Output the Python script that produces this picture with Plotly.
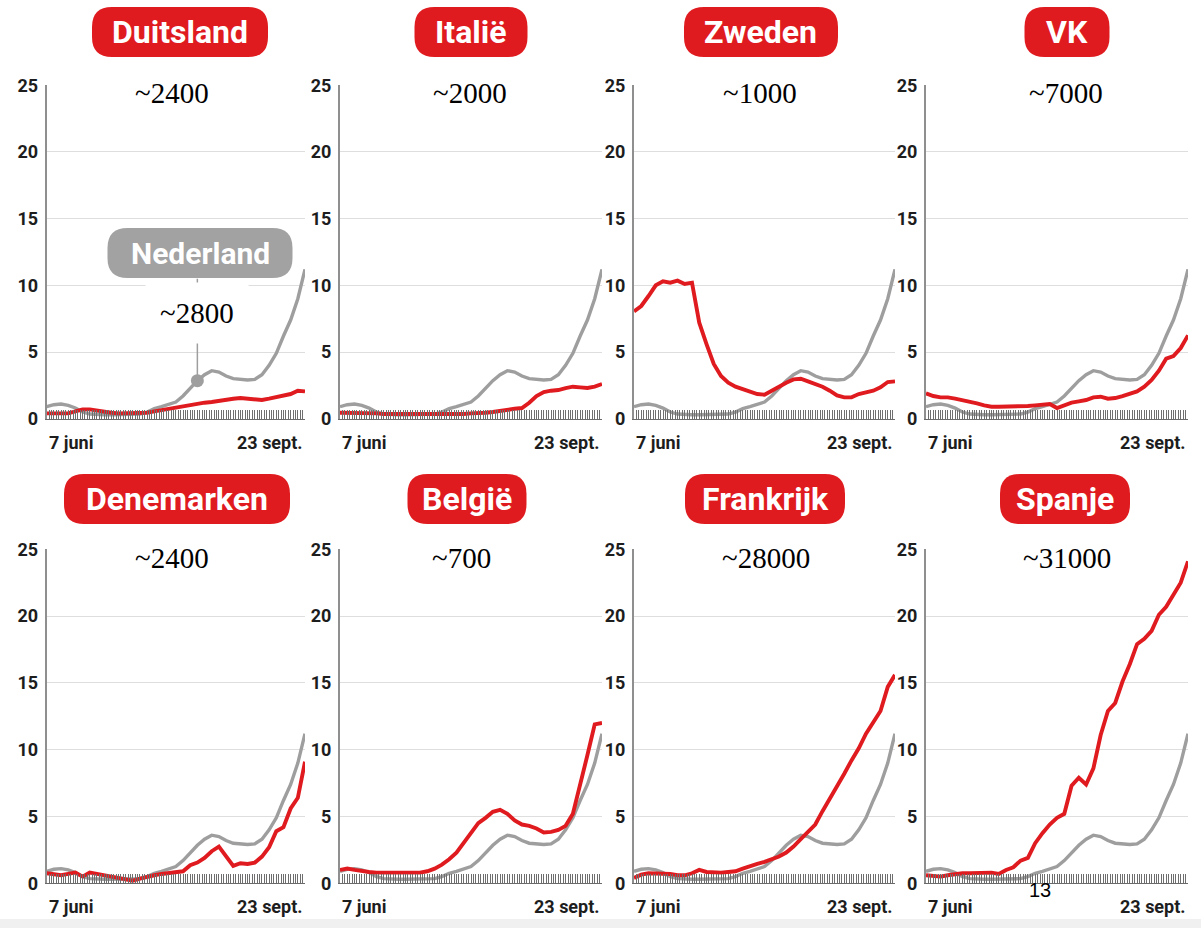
import plotly.graph_objects as go
import pandas as pd

# ---------------- data ----------------
START_DATE = "2020-06-07"
STEP_DAYS = 3
x_tick_labels = ["7 juni", "23 sept."]
y_tick_values = [0, 5, 10, 15, 20, 25]

nederland = [0.9, 1.05, 1.1, 1.0, 0.8, 0.5, 0.35, 0.3, 0.3, 0.3, 0.3, 0.3, 0.3,
             0.35, 0.5, 0.75, 0.9, 1.05, 1.25, 1.7, 2.3, 2.85, 3.3, 3.6, 3.5,
             3.2, 3.0, 2.95, 2.9, 2.95, 3.3, 4.0, 4.9, 6.2, 7.4, 9.0, 11.2]

duitsland = [0.4, 0.4, 0.35, 0.4, 0.55, 0.7, 0.7, 0.6, 0.5, 0.45, 0.4, 0.4, 0.4,
             0.4, 0.45, 0.55, 0.65, 0.75, 0.85, 0.95, 1.05, 1.1, 1.2, 1.25, 1.35,
             1.4, 1.5, 1.55, 1.5, 1.45, 1.4, 1.5, 1.6, 1.7, 1.85, 2.1, 2.05]

italie = [0.45, 0.45, 0.45, 0.45, 0.4, 0.4, 0.35, 0.35, 0.3, 0.3, 0.3, 0.3, 0.3,
          0.3, 0.3, 0.35, 0.35, 0.35, 0.4, 0.4, 0.45, 0.5, 0.6, 0.7, 0.75,
          0.8, 1.2, 1.7, 2.0, 2.1, 2.15, 2.3, 2.4, 2.35, 2.3, 2.4, 2.6]

zweden = [8.05, 8.45, 9.2, 10.0, 10.3, 10.2, 10.35, 10.1, 10.2, 7.2, 5.6, 4.1, 3.2,
          2.7, 2.4, 2.2, 2.0, 1.85, 1.8, 2.1, 2.45, 2.7, 2.95, 3.0, 2.8,
          2.6, 2.4, 2.1, 1.75, 1.6, 1.6, 1.85, 2.0, 2.1, 2.35, 2.75, 2.8]

vk = [1.9, 1.7, 1.6, 1.6, 1.5, 1.4, 1.3, 1.15, 1.0, 0.9, 0.9, 0.9, 0.9,
      0.95, 0.95, 1.0, 1.05, 1.1, 0.8, 1.0, 1.2, 1.3, 1.4, 1.6, 1.65,
      1.5, 1.55, 1.7, 1.85, 2.05, 2.4, 2.9, 3.6, 4.5, 4.7, 5.3, 6.25]

denemarken = [0.75, 0.7, 0.6, 0.7, 0.8, 0.5, 0.8, 0.7, 0.6, 0.45, 0.35, 0.25, 0.2,
              0.35, 0.5, 0.6, 0.7, 0.75, 0.85, 0.9, 1.35, 1.55, 1.9, 2.4, 2.75,
              2.0, 1.3, 1.5, 1.45, 1.55, 2.0, 2.7, 3.9, 4.2, 5.6, 6.4, 9.1]

belgie = [1.0, 1.1, 1.0, 0.9, 0.85, 0.8, 0.8, 0.78, 0.75, 0.75, 0.8, 0.8, 0.9,
          1.1, 1.4, 1.8, 2.3, 3.0, 3.8, 4.5, 4.9, 5.35, 5.5, 5.2, 4.7,
          4.4, 4.3, 4.1, 3.8, 3.85, 4.0, 4.3, 5.2, 7.3, 9.6, 11.9, 12.0]

frankrijk = [0.4, 0.65, 0.75, 0.75, 0.75, 0.7, 0.6, 0.6, 0.75, 1.0, 0.85, 0.8, 0.8,
             0.85, 0.9, 1.1, 1.3, 1.45, 1.6, 1.8, 2.0, 2.3, 2.75, 3.3, 3.9,
             4.4, 5.4, 6.3, 7.3, 8.2, 9.2, 10.1, 11.2, 12.1, 12.9, 14.7, 15.6]

spanje = [0.6, 0.55, 0.5, 0.6, 0.7, 0.75, 0.75, 0.75, 0.75, 0.8, 0.7, 1.0, 1.2,
          1.7, 1.9, 3.0, 3.75, 4.4, 4.9, 5.2, 7.3, 7.9, 7.4, 8.6, 11.1,
          12.9, 13.5, 15.1, 16.4, 17.9, 18.3, 18.9, 20.1, 20.7, 21.6, 22.5, 24.1]

countries = ["Duitsland", "Italië", "Zweden", "VK",
             "Denemarken", "België", "Frankrijk", "Spanje"]
country_series = [duitsland, italie, zweden, vk, denemarken, belgie, frankrijk, spanje]
case_labels = ["~2400", "~2000", "~1000", "~7000", "~2400", "~700", "~28000", "~31000"]
nl_name = "Nederland"
nl_label = "~2800"
nl_marker_index = 21
page_number = "13"

dates = pd.date_range(START_DATE, periods=len(nederland), freq=f"{STEP_DAYS}D")

# ---------------- layout geometry (pixels) ----------------
W, H = 1201, 928
RED = "#e01b1f"
GRAY = "#9e9e9e"
col_px = [(46.7, 305.0), (340.0, 602.0), (634.0, 895.0), (926.0, 1188.0)]
row_px = [(85.3, 418.7), (549.3, 883.3)]
pill_centers = [(180, 32), (471, 32), (761, 32), (1067, 32),
                (177, 499), (467, 499), (765, 499), (1065, 499)]
pill_widths = [176, 113, 154, 85, 226, 119, 160, 130]
pill_h = 50
label_centers = [(172, 93), (470, 93), (760, 93), (1066, 93),
                 (172, 558), (462, 558), (766, 558), (1067, 558)]

def px(x):
    return x / W

def py(y):
    return 1 - y / H

def pill_path(cx, cy, w, h, r):
    x0, x1 = cx - w / 2, cx + w / 2
    y0, y1 = cy - h / 2, cy + h / 2
    pts = [
        ("M", [(x0 + r, y0)]), ("L", [(x1 - r, y0)]), ("Q", [(x1, y0), (x1, y0 + r)]),
        ("L", [(x1, y1 - r)]), ("Q", [(x1, y1), (x1 - r, y1)]),
        ("L", [(x0 + r, y1)]), ("Q", [(x0, y1), (x0, y1 - r)]),
        ("L", [(x0, y0 + r)]), ("Q", [(x0, y0), (x0 + r, y0)]),
    ]
    s = ""
    for cmd, ps in pts:
        s += cmd + " " + " ".join(f"{px(a):.5f},{py(b):.5f}" for a, b in ps) + " "
    return s + "Z"

FONT = "Roboto, 'Open Sans', sans-serif"
SERIF = "'Liberation Serif', 'DejaVu Serif', serif"

fig = go.Figure()
shapes = []
annotations = []
layout_axes = {}

for i, (name, vals) in enumerate(zip(countries, country_series)):
    n = i + 1
    r, c = divmod(i, 4)
    xa = "x" if n == 1 else f"x{n}"
    ya = "y" if n == 1 else f"y{n}"
    xkey = "xaxis" if n == 1 else f"xaxis{n}"
    ykey = "yaxis" if n == 1 else f"yaxis{n}"

    fig.add_trace(go.Scatter(x=dates, y=nederland, mode="lines",
                             line=dict(color=GRAY, width=3.4),
                             xaxis=xa, yaxis=ya, showlegend=False, name=nl_name))
    fig.add_trace(go.Scatter(x=dates, y=vals, mode="lines",
                             line=dict(color=RED, width=3.9),
                             xaxis=xa, yaxis=ya, showlegend=False, name=name))

    layout_axes[xkey] = dict(
        domain=[px(col_px[c][0]), px(col_px[c][1])],
        anchor=ya, type="date",
        range=[dates[0], dates[-1]],
        showgrid=False, zeroline=False, automargin=False,
        showline=True, linecolor="#6a6a6a", linewidth=1.2,
        ticks="inside", tick0=dates[0], dtick=86400000,
        ticklen=9, tickwidth=1.3, tickcolor="#6e6e6e",
        showticklabels=False, fixedrange=True,
    )
    layout_axes[ykey] = dict(
        domain=[py(row_px[r][1]), py(row_px[r][0])],
        anchor=xa, range=[0, 25], automargin=False,
        tickvals=y_tick_values,
        showgrid=True, gridcolor="#dedede", gridwidth=1,
        zeroline=False, showline=True, linecolor="#8f8f8f", linewidth=2,
        ticks="", ticklabelstandoff=3,
        tickfont=dict(family=FONT, size=18, color="#1d1d1d", weight="bold"),
        fixedrange=True,
    )

    # x tick labels
    for lbl, xpos, anchor in [(x_tick_labels[0], 0, "left"), (x_tick_labels[1], 1, "right")]:
        annotations.append(dict(
            text=lbl, xref=f"{xa} domain", yref=f"{ya} domain",
            x=xpos, y=0, xanchor=anchor, yanchor="top", yshift=-11,
            showarrow=False,
            font=dict(family=FONT, size=18, color="#1d1d1d", weight="bold"),
        ))

    # title pill
    cx, cy = pill_centers[i]
    shapes.append(dict(type="path", xref="paper", yref="paper",
                       path=pill_path(cx, cy, pill_widths[i], pill_h, 20),
                       fillcolor=RED, line=dict(width=0), layer="above"))
    annotations.append(dict(
        text=name, xref="paper", yref="paper", x=px(cx), y=py(cy),
        xanchor="center", yanchor="middle", showarrow=False,
        font=dict(family=FONT, size=32, color="white", weight="bold"),
    ))

    # case count label
    lx, ly = label_centers[i]
    annotations.append(dict(
        text=case_labels[i], xref="paper", yref="paper", x=px(lx), y=py(ly),
        xanchor="center", yanchor="middle", showarrow=False,
        bgcolor="white", borderpad=14,
        font=dict(family=SERIF, size=29, color="black"),
    ))

# Nederland callout in first panel
nl_x = dates[nl_marker_index]
nl_y = nederland[nl_marker_index]
shapes.append(dict(type="line", xref="x", yref="y",
                   x0=nl_x, x1=nl_x, y0=nl_y, y1=10.5,
                   line=dict(color=GRAY, width=1.5), layer="above"))
fig.add_trace(go.Scatter(x=[nl_x], y=[nl_y], mode="markers",
                         marker=dict(color=GRAY, size=13),
                         xaxis="x", yaxis="y", showlegend=False, name=nl_name))
shapes.append(dict(type="path", xref="paper", yref="paper",
                   path=pill_path(200, 253, 185, 50, 20),
                   fillcolor="#a2a2a2", line=dict(width=0), layer="above"))
annotations.append(dict(
    text=nl_name, xref="paper", yref="paper", x=px(200), y=py(253),
    xanchor="center", yanchor="middle", showarrow=False,
    font=dict(family=FONT, size=30, color="white", weight="bold"),
))
annotations.append(dict(
    text=nl_label, xref="paper", yref="paper", x=px(197), y=py(313),
    xanchor="center", yanchor="middle", showarrow=False,
    bgcolor="white", borderpad=14,
    font=dict(family=SERIF, size=29, color="black"),
))

# page number and bottom strip
annotations.append(dict(
    text=page_number, xref="paper", yref="paper", x=px(1040), y=py(890),
    xanchor="center", yanchor="middle", showarrow=False,
    font=dict(family="'Liberation Sans', Arial, sans-serif", size=20, color="black"),
))
shapes.append(dict(type="rect", xref="paper", yref="paper",
                   x0=0, x1=1, y0=0, y1=py(919),
                   fillcolor="#f0f0f0", line=dict(width=0), layer="below"))

fig.update_layout(
    width=W, height=H, autosize=False,
    margin=dict(l=0, r=0, t=0, b=0, pad=0),
    paper_bgcolor="white", plot_bgcolor="white",
    shapes=shapes, annotations=annotations,
    showlegend=False,
    **layout_axes,
)

fig.write_html(
    "out.html",
    config={"responsive": False, "displayModeBar": False},
    post_script="document.body.style.margin='0px'; document.body.style.overflow='hidden';",
)
